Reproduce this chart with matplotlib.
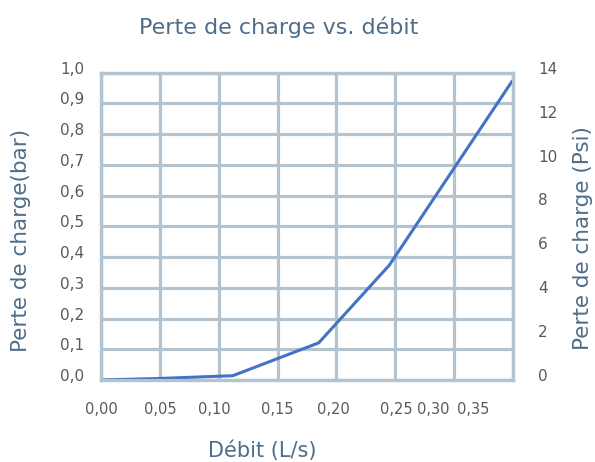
import matplotlib
matplotlib.use("Agg")
import matplotlib.transforms as mtransforms
from matplotlib import pyplot as plt

# values
flow_ls = [0.0, 0.05, 0.112, 0.185, 0.245, 0.349]
loss_bar = [0.0, 0.005, 0.014, 0.121, 0.374, 0.971]

x_grid = [0.0, 0.05, 0.10, 0.15, 0.20, 0.25, 0.30, 0.35]
x_label_pos = [0.0, 0.05, 0.0966, 0.150, 0.197, 0.251, 0.282, 0.316]
x_labels = ["0,00", "0,05", "0,10", "0,15", "0,20", "0,25", "0,30", "0,35"]
bar_ticks = [0.0, 0.1, 0.2, 0.3, 0.4, 0.5, 0.6, 0.7, 0.8, 0.9, 1.0]
bar_labels = ["0,0", "0,1", "0,2", "0,3", "0,4", "0,5", "0,6", "0,7", "0,8", "0,9", "1,0"]
psi_ticks = [0, 2, 4, 6, 8, 10, 12, 14]

title_color = "#4f6d89"
tick_color = "#595959"
grid_color = "#b3c4d0"
line_color = "#4472c4"

plt.rcParams["font.family"] = ["DejaVu Sans"]

fig = plt.figure(figsize=(5.95, 4.62), dpi=100)
ax = fig.add_axes([0.1697, 0.1775, 0.6925, 0.6651])
ax2 = ax.twinx()

ax.plot(flow_ls, loss_bar, color=line_color, lw=2.2, zorder=3, solid_joinstyle="miter")
ax.set_xlim(0, 0.35)
ax.set_ylim(0, 1.0)
ax2.set_ylim(0, 14)

# vertical grid every 0.05, labels sit where the reference puts them
for xv in x_grid:
    ax.axvline(xv, color=grid_color, lw=2.3, zorder=1)
ax.set_xticks(x_label_pos)
ax.set_xticklabels(x_labels)
ax.set_yticks(bar_ticks)
ax.set_yticklabels(bar_labels)
ax2.set_yticks(psi_ticks)
ax2.set_yticklabels([str(v) for v in psi_ticks])

ax.grid(False)
ax.grid(True, which="major", axis="y", color=grid_color, lw=2.3)
ax.set_axisbelow(True)

for a in (ax, ax2):
    for s in a.spines.values():
        s.set_color(grid_color)
        s.set_linewidth(2.3)

ax.tick_params(axis="x", which="both", length=0, pad=16, labelsize=10.5, labelcolor=tick_color)
ax.tick_params(axis="y", length=0, pad=12, labelsize=11, labelcolor=tick_color)
ax2.tick_params(axis="y", length=0, pad=18, labelsize=11, labelcolor=tick_color)

# tick labels in the reference sit a little above their grid lines
shift = mtransforms.ScaledTranslation(0, 5 / 100, fig.dpi_scale_trans)
for lbl in ax.get_yticklabels() + ax2.get_yticklabels():
    lbl.set_transform(lbl.get_transform() + shift)

fig.text(0.469, 0.941, "Perte de charge vs. débit", ha="center", va="center",
         fontsize=16, color=title_color)
fig.text(0.44, 0.024, "Débit (L/s)", ha="center", va="center",
         fontsize=15, color=title_color)
fig.text(0.036, 0.48, "Perte de charge(bar)", ha="center", va="center",
         rotation=90, fontsize=15.5, color=title_color)
fig.text(0.98, 0.485, "Perte de charge (Psi)", ha="center", va="center",
         rotation=90, fontsize=15.5, color=title_color)

fig.savefig("out.png", dpi=100)
